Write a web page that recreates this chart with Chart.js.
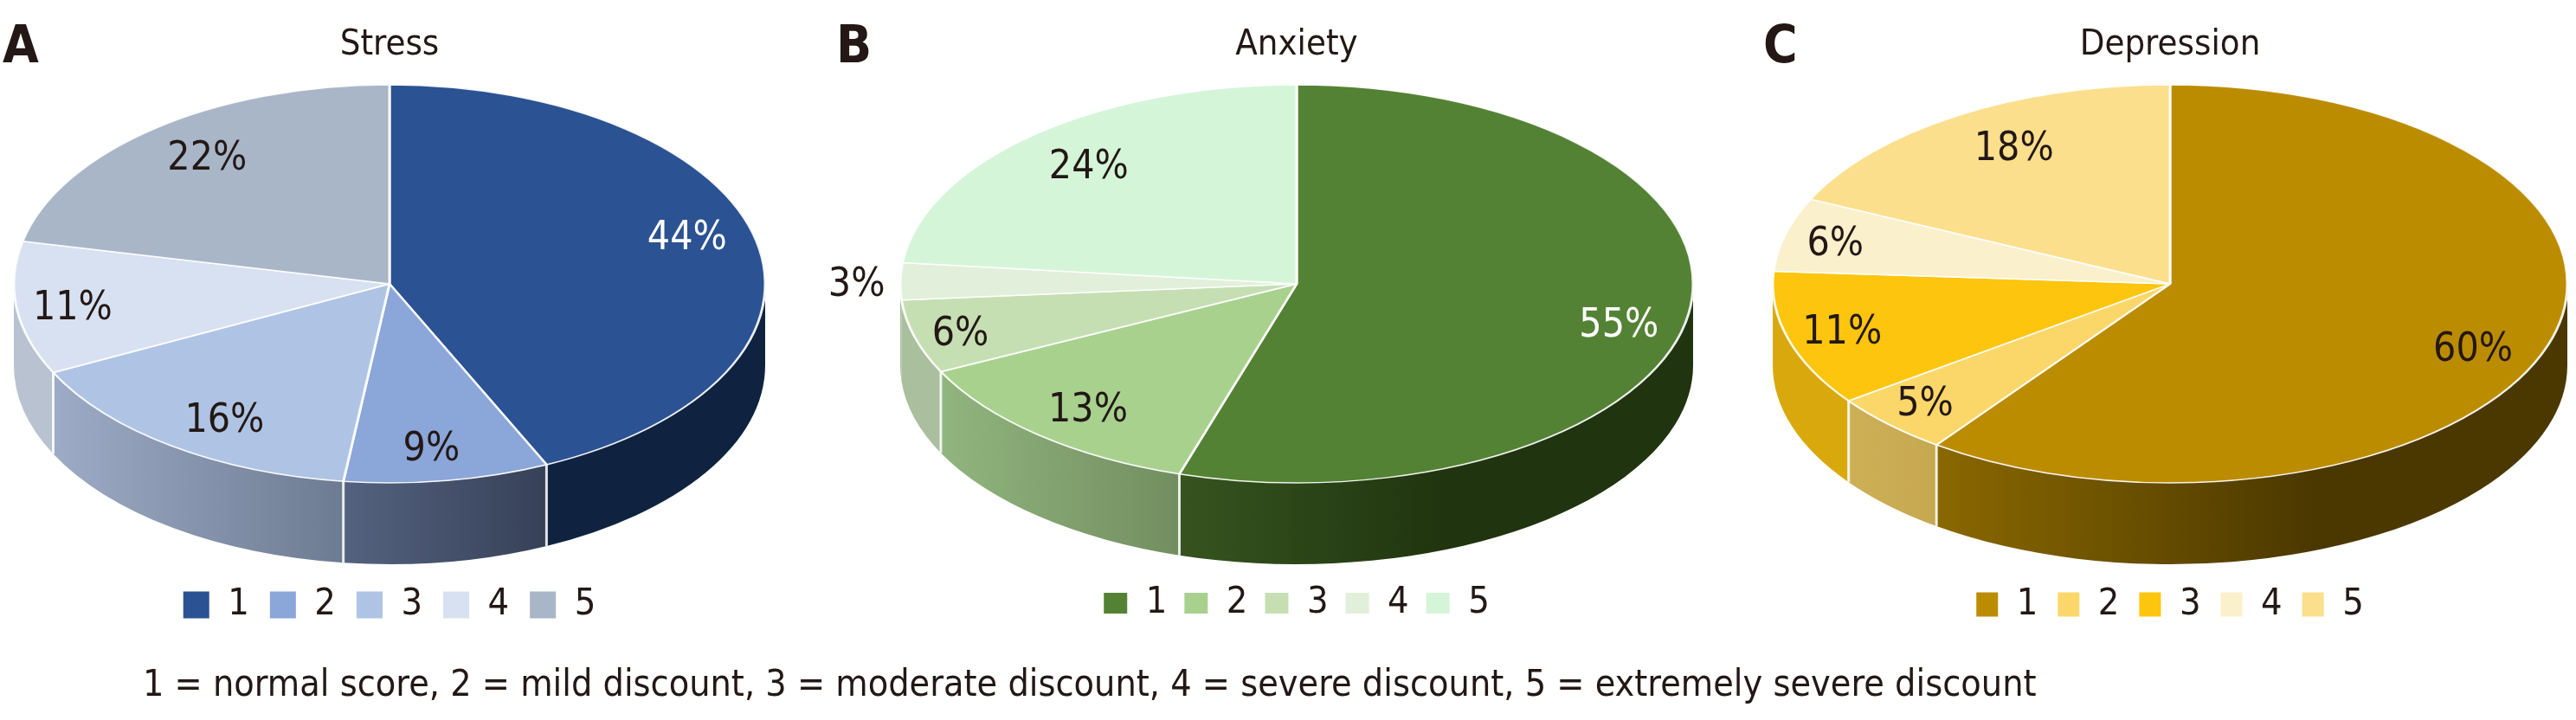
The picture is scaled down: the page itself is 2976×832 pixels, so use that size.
<!DOCTYPE html>
<html>
<head>
<meta charset="utf-8">
<script src="https://cdn.jsdelivr.net/npm/chart.js@4/dist/chart.umd.min.js"></script>
<style>
html,body{margin:0;padding:0;background:#fff;width:2976px;height:832px;overflow:hidden}
canvas{position:absolute;top:0}
.t{position:absolute;color:#231815;font-family:"DejaVu Sans Condensed","DejaVu Sans",sans-serif;white-space:nowrap;line-height:1}
.letter{font-weight:bold;font-size:60px;top:21px}
</style>
</head>
<body>
<div class="t letter" style="left:3px">A</div>
<div class="t letter" style="left:966px">B</div>
<div class="t letter" style="left:2037px">C</div>
<canvas id="a" width="900" height="832" style="left:0"></canvas>
<canvas id="b" width="1080" height="832" style="left:958px"></canvas>
<canvas id="c" width="938" height="832" style="left:2038px"></canvas>
<div class="t" id="note" style="left:165px;top:768px;font-size:42.7px">1 = normal score, 2 = mild discount, 3 = moderate discount, 4 = severe discount, 5 = extremely severe discount</div>
<script>
const categories = ['1','2','3','4','5'];

const stressValues = [44,9,16,11,22];
const anxietyValues = [55,13,6,3,23.4];
const depressionValues = [60,5,11,6,18];

const stressLabels = ['44%','9%','16%','11%','22%'];
const anxietyLabels = ['55%','13%','6%','3%','24%'];
const depressionLabels = ['60%','5%','11%','6%','18%'];

const stressColors = ['#2b5292','#8ba6d8','#afc4e4','#d8e1f1','#a9b6c8'];
const anxietyColors = ['#548235','#a9d18e','#c5dfb3','#e2efda','#d5f5d8'];
const depressionColors = ['#bc8c00','#fbd76a','#fdc50d','#fbf0cc','#fbdf8c'];

// side wall shading: left colour, right colour, where the right colour is reached
const stressWalls = [['#0f2340','#0f2340',1],['#55627f','#364158',1],['#9dabc6','#6d7b92',1],['#b8c2d0','#b8c2d0',1],['#a9b6c8','#a9b6c8',1]];
const anxietyWalls = [['#36541f','#20340f',.52],['#91b57e','#728e60',1],['#a9bf9d','#a9bf9d',1],['#a9bf9d','#a9bf9d',1],['#d5f5d8','#d5f5d8',1]];
const depressionWalls = [['#8a6800','#4b3800',.6],['#cdb056','#c5a850',1],['#d9a80c','#d9a80c',1],['#e0d4a8','#e0d4a8',1],['#fbdf8c','#fbdf8c',1]];

// label placement relative to each slice: fraction of radius, turn in degrees
const stressLabelRadius = [.83,.82,.80,.85,.81];
const anxietyLabelRadius = [.835,.81,.88,1.11,.80];
const depressionLabelRadius = [.825,.85,.855,.87,.80];
const stressLabelTurn = [-5,1,-2,0,2];
const anxietyLabelTurn = [4.6,0,0,0,1];
const depressionLabelTurn = [4.4,1.5,1,0,3];
const stressLabelColors = ['#fff','#231815','#231815','#231815','#231815'];
const anxietyLabelColors = ['#fff','#231815','#231815','#231815','#231815'];
const depressionLabelColors = ['#231815','#231815','#231815','#231815','#231815'];

const FONT = '"DejaVu Sans Condensed","DejaVu Sans",sans-serif';
const INK = '#231815';
const DEPTH = 94;
const CENTER_Y = 328;
const LEGEND_Y = 692;
const LABEL_DROP = 5;

function pie3d(id, title, values, labels, colors, walls, labelRadius, labelTurn, labelColors, cfg){
  const tilt = {
    id:'tilt',
    afterLayout(chart){
      chart.legend.top = LEGEND_Y - chart.legend.height/2;
      chart.legend.bottom = chart.legend.top + chart.legend.height;
      chart.chartArea.top = CENTER_Y - 100;
      chart.chartArea.bottom = CENTER_Y + 100;
      chart.chartArea.height = 200;
    },
    beforeDatasetsDraw(chart){
      const ctx = chart.ctx, arcs = chart.getDatasetMeta(0).data;
      const {x:cx,y:cy,outerRadius:rx} = arcs[0], ry = cfg.ry;
      arcs.forEach((arc,i)=>{
        const a0 = Math.max(arc.startAngle,0), a1 = Math.min(arc.endAngle,Math.PI);
        if(a1 <= a0) return;
        const xL = cx+rx*Math.cos(a1), xR = cx+rx*Math.cos(a0);
        const g = ctx.createLinearGradient(xL,0,xR,0);
        g.addColorStop(0,walls[i][0]); g.addColorStop(walls[i][2],walls[i][1]); g.addColorStop(1,walls[i][1]);
        ctx.beginPath();
        ctx.ellipse(cx,cy,rx,ry,0,a0,a1);
        ctx.ellipse(cx,cy+DEPTH,rx,ry,0,a1,a0,true);
        ctx.closePath();
        ctx.fillStyle = g; ctx.fill();
      });
      ctx.strokeStyle='rgba(255,255,255,.85)'; ctx.lineWidth=3;
      arcs.forEach(arc=>{
        const a=arc.endAngle;
        if(a>0 && a<Math.PI*.93){
          const x=cx+rx*Math.cos(a), y=cy+ry*Math.sin(a);
          ctx.beginPath(); ctx.moveTo(x,y); ctx.lineTo(x,y+DEPTH); ctx.stroke();
        }
      });
      ctx.save();
      ctx.translate(cx,cy); ctx.scale(1,ry/rx); ctx.translate(-cx,-cy);
    },
    afterDatasetsDraw(chart){
      const ctx = chart.ctx; ctx.restore();
      const arcs = chart.getDatasetMeta(0).data;
      ctx.font = '46px '+FONT; ctx.textAlign='center'; ctx.textBaseline='middle';
      arcs.forEach((arc,i)=>{
        const m=(arc.startAngle+arc.endAngle)/2 + labelTurn[i]*Math.PI/180;
        const k=labelRadius[i];
        ctx.fillStyle=labelColors[i];
        ctx.fillText(labels[i], arc.x+arc.outerRadius*k*Math.cos(m), arc.y+cfg.ry*k*Math.sin(m)+LABEL_DROP);
      });
    }
  };
  return new Chart(document.getElementById(id),{
    type:'pie',
    data:{labels:categories,datasets:[{data:values,backgroundColor:colors,borderColor:'rgba(255,255,255,.9)',borderWidth:3,clip:false}]},
    options:{
      responsive:false,animation:false,events:[],radius:cfg.rx,
      layout:{padding:{top:0,bottom:90,left:0,right:0}},
      plugins:{
        tooltip:{enabled:false},
        title:{display:true,text:title,color:INK,font:{family:FONT,size:41.5,weight:'normal'},padding:{top:27,bottom:0}},
        legend:{position:'bottom',labels:{
          color:INK,font:{family:FONT,size:43},boxWidth:cfg.box[0],boxHeight:cfg.box[1],padding:cfg.pad,
          generateLabels:c=>Chart.overrides.doughnut.plugins.legend.labels.generateLabels(c).map(l=>({...l,lineWidth:0}))
        }}
      }
    },
    plugins:[tilt]
  });
}
pie3d('a','Stress',stressValues,stressLabels,stressColors,stressWalls,stressLabelRadius,stressLabelTurn,stressLabelColors,{rx:434,ry:230,box:[30,31],pad:24});
pie3d('b','Anxiety',anxietyValues,anxietyLabels,anxietyColors,anxietyWalls,anxietyLabelRadius,anxietyLabelTurn,anxietyLabelColors,{rx:458,ry:230,box:[27,24],pad:20});
pie3d('c','Depression',depressionValues,depressionLabels,depressionColors,depressionWalls,depressionLabelRadius,depressionLabelTurn,depressionLabelColors,{rx:459,ry:230,box:[25,28],pad:23});
</script>
</body>
</html>
